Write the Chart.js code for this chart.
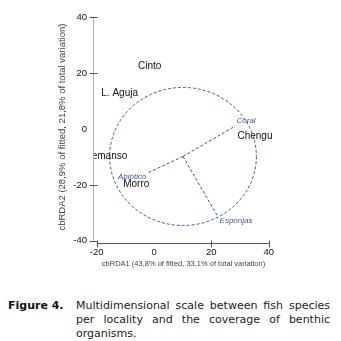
<!DOCTYPE html>
<html>
<head>
<meta charset="utf-8">
<script src="https://cdn.jsdelivr.net/npm/chart.js@4.4.0/dist/chart.umd.min.js"></script>
<style>
  html, body { margin: 0; padding: 0; background: #fff; }
  #wrap { position: relative; width: 341px; height: 341px; }
  #plot { position: absolute; left: 0; top: 0; }
  .caption { position: absolute; left: 8px; top: 299px; width: 323px; display: flex;
             font-family: "DejaVu Sans", Verdana, sans-serif; font-size: 11px; line-height: 14px; color: #222; }
  .caption b { width: 68px; flex: none; color: #111; }
  .caption span { width: 254px; text-align: justify; }
</style>
</head>
<body>
<div id="wrap">
  <canvas id="plot" width="341" height="275"></canvas>
  <div class="caption"><b>Figure 4.</b><span>Multidimensional scale between fish species per locality and the coverage of benthic organisms.</span></div>
</div>
<script>
// sites (black labels)
const sites = ['Cinto', 'L. Aguja', 'Chengu', 'Remanso', 'Morro'];
const siteX = [-1.5, -12.0, 35.2, -16.8, -6.2];
const siteY = [22.6, 12.8, -2.5, -9.8, -19.8];

// benthic vectors (blue)
const species = ['Coral', 'Abiótico', 'Esponjas'];
const vecX = [28.2, -2.2, 22.3];
const vecY = [1.0, -15.7, -31.4];
const labelX = [32.1, -7.6, 28.6];
const labelY = [3.1, -17.1, -32.9];
const origin = [10.1, -9.8];

// correlation circle
const circleRX = 25.6;
const circleRY = 24.7;

const xTicks = [-20, 0, 20, 40];
const yTicks = [-40, -20, 0, 20, 40];
const xTitle = 'cbRDA1 (43,8% of fitted, 33,1% of total variation)';
const yTitle = 'cbRDA2 (28,9% of fitted, 21,8% of total variation)';

const blue = '#3b57aa';

const datasets = species.map((s, i) => ({
  label: s,
  data: [{x: origin[0], y: origin[1]}, {x: vecX[i], y: vecY[i]}],
  showLine: true,
  borderColor: blue,
  borderWidth: 1,
  borderDash: [3, 2],
  pointRadius: 0
}));
datasets.push({
  label: 'sites',
  data: sites.map((s, i) => ({x: siteX[i], y: siteY[i]})),
  pointRadius: 0
});
datasets.push({
  label: 'species labels',
  data: species.map((s, i) => ({x: labelX[i], y: labelY[i]})),
  pointRadius: 0
});

const extras = {
  id: 'extras',
  afterDatasetsDraw(chart) {
    const {ctx, chartArea} = chart;
    const xs = chart.scales.x, ys = chart.scales.y;
    ctx.save();
    ctx.beginPath();
    ctx.rect(chartArea.left, 0, chart.width - chartArea.left, chart.height);
    ctx.clip();

    // circle
    const cx = xs.getPixelForValue(origin[0]);
    const cy = ys.getPixelForValue(origin[1]);
    const rx = xs.getPixelForValue(origin[0] + circleRX) - cx;
    const ry = cy - ys.getPixelForValue(origin[1] + circleRY);
    ctx.strokeStyle = blue;
    ctx.lineWidth = 1;
    ctx.setLineDash([3, 2]);
    ctx.beginPath();
    ctx.ellipse(cx, cy, rx, ry, 0, 0, Math.PI * 2);
    ctx.stroke();
    ctx.setLineDash([]);

    // site labels
    ctx.textAlign = 'center';
    ctx.textBaseline = 'middle';
    ctx.fillStyle = '#111';
    ctx.font = '10px "Liberation Sans", Arial, sans-serif';
    chart.getDatasetMeta(3).data.forEach((pt, i) => ctx.fillText(sites[i], pt.x, pt.y));

    // species labels
    ctx.fillStyle = blue;
    ctx.font = 'italic 8px "Liberation Sans", Arial, sans-serif';
    chart.getDatasetMeta(4).data.forEach((pt, i) => ctx.fillText(species[i], pt.x, pt.y));
    ctx.restore();

    // axes, R style
    ctx.save();
    ctx.lineWidth = 1;
    ctx.strokeStyle = '#b0b0b0';
    const ax = Math.round(chartArea.left) + 0.5;
    ctx.beginPath();
    ctx.moveTo(ax, ys.getPixelForValue(yTicks[yTicks.length - 1]));
    ctx.lineTo(ax, ys.getPixelForValue(yTicks[0]));
    ctx.stroke();
    ctx.strokeStyle = '#555';
    yTicks.forEach(v => {
      if (v === 0) return;
      const y = Math.round(ys.getPixelForValue(v)) + 0.5;
      ctx.beginPath(); ctx.moveTo(ax - 4, y); ctx.lineTo(ax + 4, y); ctx.stroke();
    });
    const ay = Math.round(chartArea.bottom) + 0.5;
    ctx.beginPath();
    ctx.moveTo(xs.getPixelForValue(xTicks[0]), ay);
    ctx.lineTo(xs.getPixelForValue(xTicks[xTicks.length - 1]), ay);
    ctx.stroke();
    xTicks.forEach(v => {
      if (v === 0) return;
      const x = Math.round(xs.getPixelForValue(v)) + 0.5;
      ctx.beginPath(); ctx.moveTo(x, ay - 3); ctx.lineTo(x, ay + 4); ctx.stroke();
    });
    ctx.restore();
  }
};

new Chart(document.getElementById('plot'), {
  type: 'scatter',
  data: {datasets: datasets},
  plugins: [extras],
  options: {
    responsive: false,
    animation: false,
    layout: {padding: {top: 5, right: 67, bottom: 0, left: 0}},
    plugins: {legend: {display: false}, tooltip: {enabled: false}},
    scales: {
      x: {
        min: -21.3, max: 41.85,
        afterBuildTicks: s => { s.ticks = xTicks.map(v => ({value: v})); },
        afterFit: s => { s.height = 32.5; },
        grid: {display: false, drawTicks: false},
        border: {display: false},
        ticks: {padding: 4, maxRotation: 0, autoSkip: false, color: '#111',
                font: {family: '"Liberation Sans", Arial, sans-serif', size: 9.5}},
        title: {display: true, text: xTitle, color: '#444', padding: {top: 0, bottom: 7},
                font: {family: '"Liberation Sans", Arial, sans-serif', size: 7.5}}
      },
      y: {
        min: -40.6, max: 42,
        afterBuildTicks: s => { s.ticks = yTicks.map(v => ({value: v})); },
        afterFit: s => { s.width = 93; },
        grid: {display: false, drawTicks: false},
        border: {display: false},
        ticks: {padding: 6, autoSkip: false, color: '#111',
                font: {family: '"Liberation Sans", Arial, sans-serif', size: 9.5}},
        title: {display: true, text: yTitle, color: '#444', padding: {top: 57, bottom: 0},
                font: {family: '"Liberation Sans", Arial, sans-serif', size: 9.5}}
      }
    }
  }
});
</script>
</body>
</html>
